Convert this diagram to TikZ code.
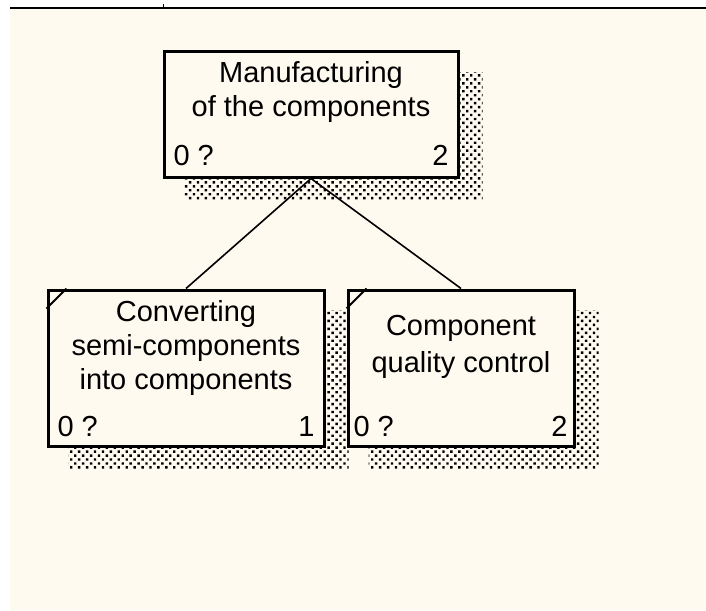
\documentclass[tikz,border=0pt]{standalone}
\usepackage{fontspec}
\setmainfont{Liberation Sans}
\usepackage{tikz}
\usetikzlibrary{positioning,backgrounds,patterns.meta}
\definecolor{Cream}{HTML}{FFFAF0}
\tikzset{
  act/.style={draw=black, line width=1.5pt, fill=Cream, inner sep=0pt},
  actshade/.style={draw=none, pattern={Dots[distance=2.8pt, radius=0.85pt, angle=45]}, pattern color=black},
  title/.style={align=center, inner sep=0pt, outer sep=0pt, font=\fontsize{14.5}{17}\selectfont},
  tally/.style={inner sep=0pt, outer sep=0pt, font=\fontsize{14.5}{17}\selectfont},
  link/.style={line width=0.8pt, draw=black},
  nick/.style={line width=0.9pt, draw=black}
}

\begin{document}
\begin{tikzpicture}[x=0.5pt, y=-0.5pt]
\useasboundingbox (0,0) rectangle (706,610);
\node[act, minimum width=147pt, minimum height=62.5pt] (mfg) at (311,114.5) {};
\node[act, minimum width=138pt, minimum height=78pt] (conv) at (186,368) {};
\node[act, minimum width=113pt, minimum height=78pt, right=10.5pt of conv] (qc) {};
\begin{scope}[on background layer]
  \fill[Cream] (10,9) rectangle (706,610);
  \foreach \b in {mfg,conv,qc}
    \fill[actshade] ([shift={(22,21)}]\b.south west) rectangle ([shift={(23,22)}]\b.north east);
\end{scope}
\draw[line width=1.25pt] (10,8) -- (706,8);
\draw[line width=0.5pt] (163,4) -- (163,8);
\node[title, below=5.5pt of mfg.north] (mfgtxt) {Manufacturing\\of the components};
\node[title, below=6pt of conv.north] (convtxt) {Converting\\semi-components\\into components};
\node[title, below=13.5pt of qc.north, font=\fontsize{14.5}{18.5}\selectfont] (qctxt) {Component\\quality control};
\node[tally, above right=6.5pt and 5.5pt of mfg.south west] (mfgl) {0 ?};
\node[tally, above left=6.5pt and 5.5pt of mfg.south east] (mfgr) {2};
\node[tally, above right=5.5pt and 5.5pt of conv.south west] (convl) {0 ?};
\node[tally, above left=5.5pt and 5.5pt of conv.south east] (convr) {1};
\node[tally, above right=5.5pt and 3.5pt of qc.south west] (qcl) {0 ?};
\node[tally, above left=5.5pt and 4pt of qc.south east] (qcr) {2};
\draw[nick] ([shift={(0,20)}]conv.north west) -- ([shift={(20,0)}]conv.north west);
\draw[nick] ([shift={(0,20)}]qc.north west) -- ([shift={(20,0)}]qc.north west);
\draw[link] (mfg.south) -- (conv.north);
\draw[link] (mfg.south) -- (qc.north);
\end{tikzpicture}
\end{document}
